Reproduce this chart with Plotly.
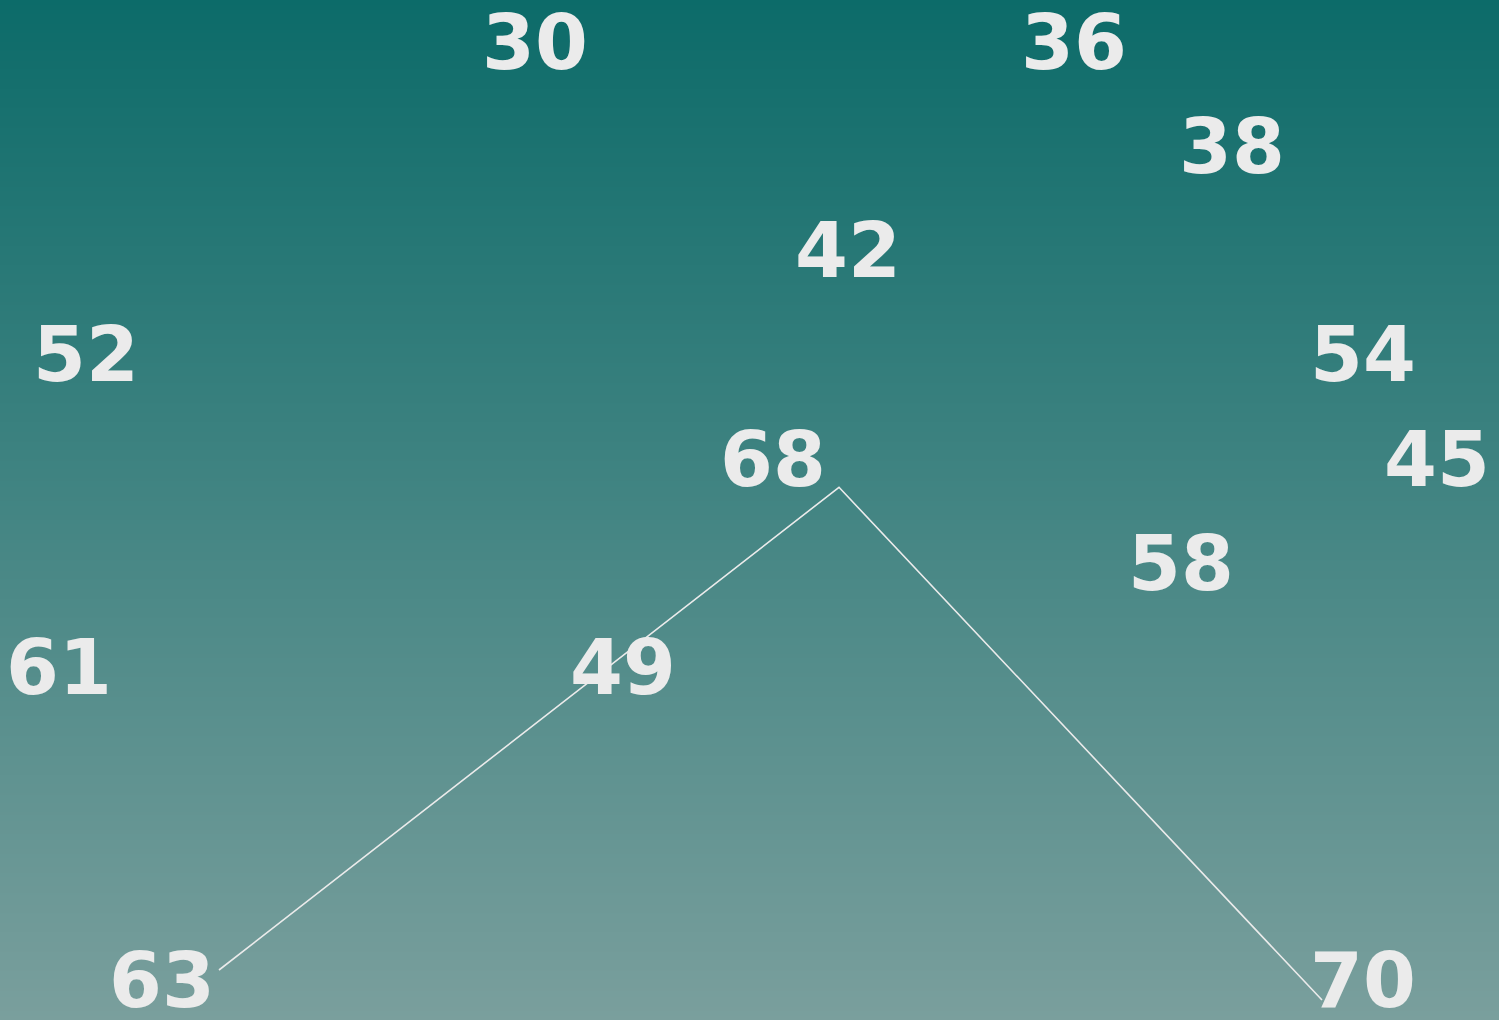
import plotly.graph_objects as go

# ---- data ----
labels = [30, 36, 38, 42, 52, 54, 68, 45, 58, 61, 49, 63, 70]
label_x = [535, 1074, 1232, 848, 86, 1363, 773, 1437, 1181, 59, 623, 162, 1363]
label_row = [0, 0, 1, 2, 3, 3, 4, 4, 5, 6, 6, 9, 9]

line_x = [219, 839, 1322]
line_row = [8.907, 4.279, 9.195]

# ---- styling ----
W, H = 1499, 1020
ROW_TOP, ROW_STEP = 41.0, 104.3
y_top = -ROW_TOP / ROW_STEP
y_bottom = (H - ROW_TOP) / ROW_STEP
TEXT_SHIFT = 8.5 / ROW_STEP   # baseline compensation for text glyphs
TOP_COLOR = "rgb(12,107,105)"
BOTTOM_COLOR = "rgb(122,159,157)"
TEXT_COLOR = "#ebebeb"

fig = go.Figure()

# gradient background
fig.add_trace(go.Heatmap(
    x=[0, W], y=[y_top, y_bottom], z=[[0, 0], [1, 1]],
    colorscale=[[0, TOP_COLOR], [1, BOTTOM_COLOR]],
    zsmooth="best", showscale=False, hoverinfo="skip",
))

fig.add_trace(go.Scatter(
    x=line_x, y=line_row, mode="lines",
    line=dict(color=TEXT_COLOR, width=1.6),
    hoverinfo="skip", showlegend=False, cliponaxis=False,
))

fig.add_trace(go.Scatter(
    x=label_x, y=label_row, mode="text", yaxis="y2",
    text=[str(v) for v in labels], textposition="middle center",
    textfont=dict(family="DejaVu Sans", size=76, color=TEXT_COLOR, weight="bold"),
    hoverinfo="skip", showlegend=False, cliponaxis=False,
))

fig.update_layout(
    width=W, height=H,
    margin=dict(l=0, r=0, t=0, b=0),
    paper_bgcolor=TOP_COLOR, plot_bgcolor="rgba(0,0,0,0)",
    showlegend=False,
    xaxis=dict(range=[0, W], visible=False, fixedrange=True),
    yaxis=dict(range=[y_bottom, y_top], visible=False, fixedrange=True),
    yaxis2=dict(range=[y_bottom - TEXT_SHIFT, y_top - TEXT_SHIFT], overlaying="y",
                visible=False, fixedrange=True),
)

fig.write_html(
    "out.html",
    config={"displayModeBar": False},
    post_script="document.body.style.margin='0';document.body.style.overflow='hidden';",
)
